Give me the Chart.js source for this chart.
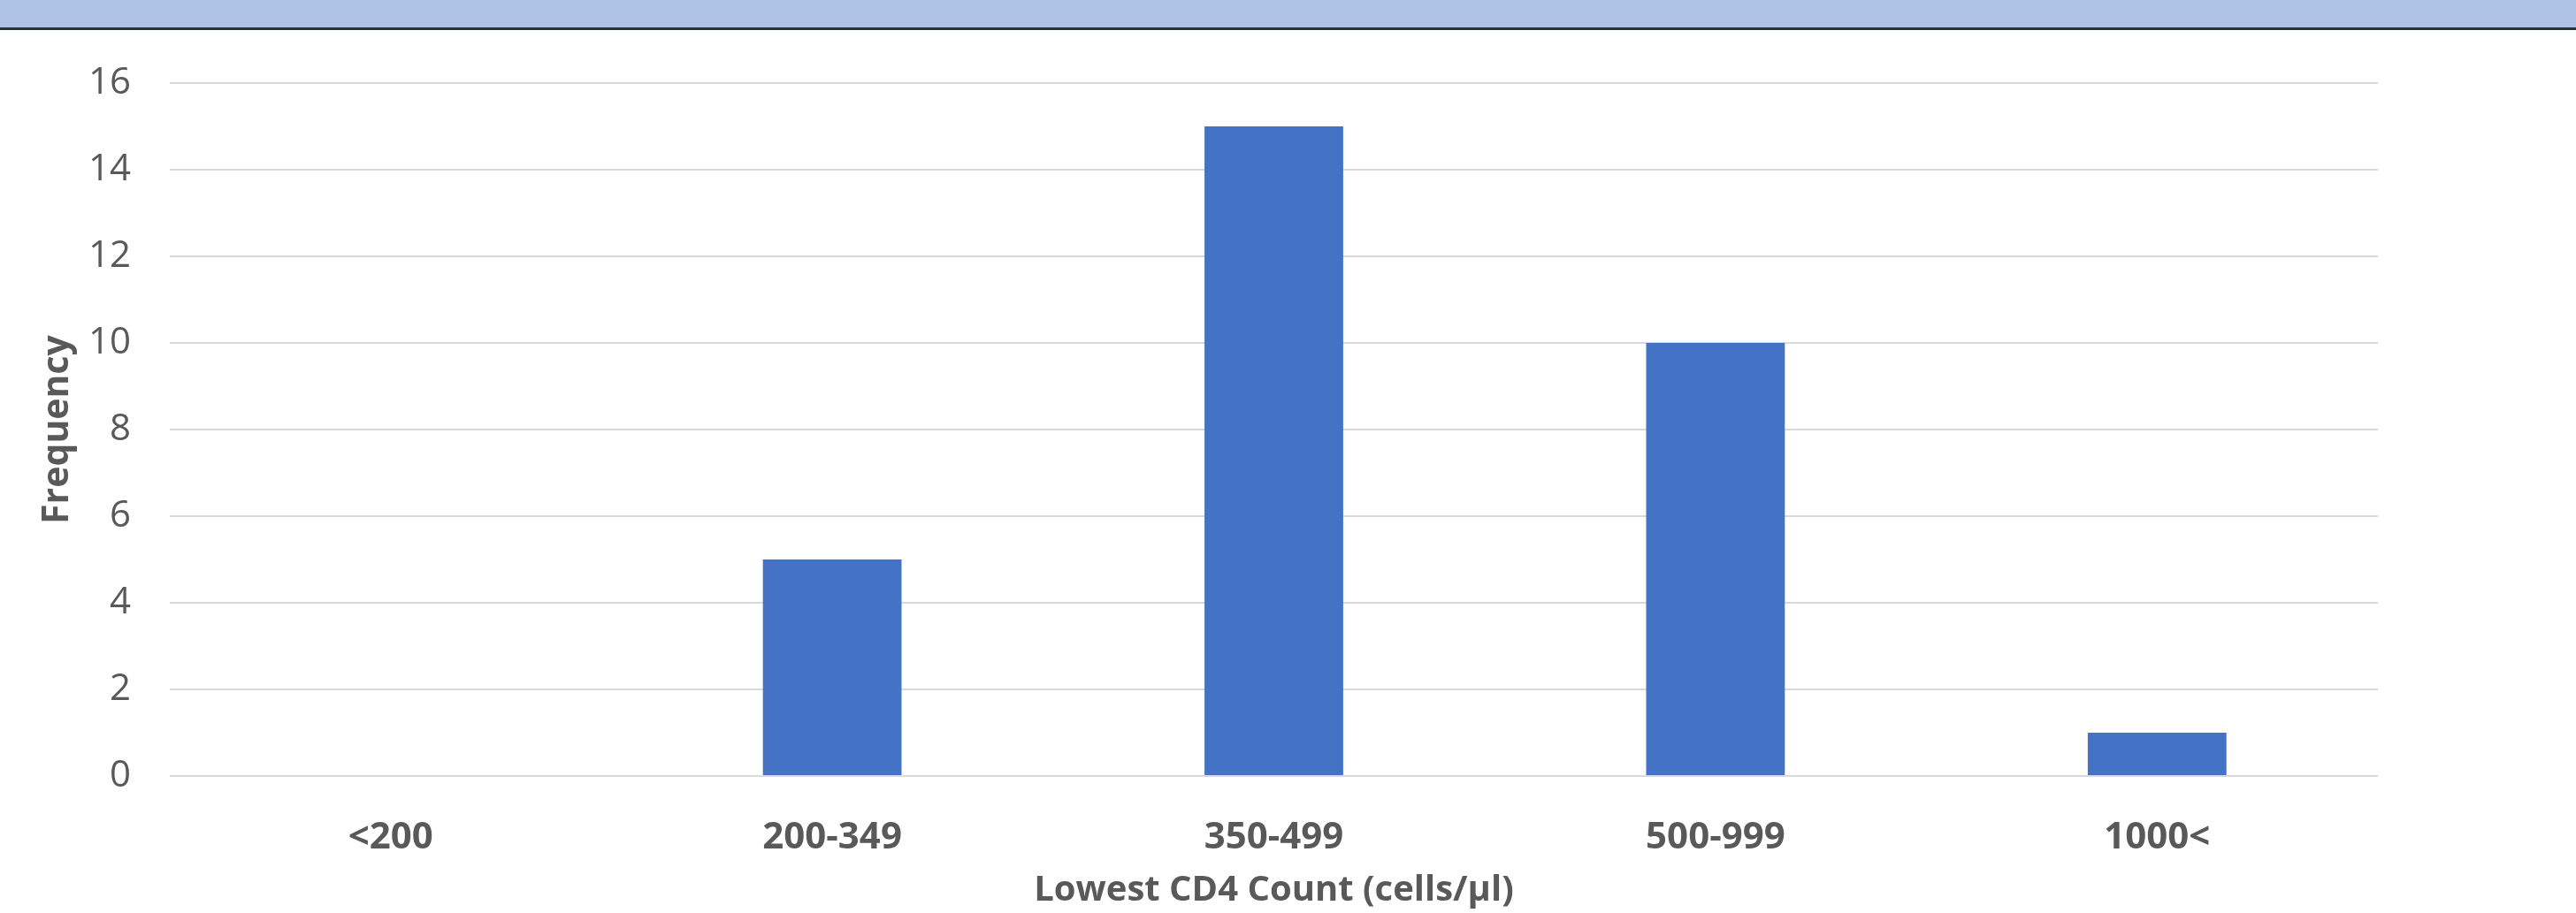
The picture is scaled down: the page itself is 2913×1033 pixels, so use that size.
<!DOCTYPE html>
<html>
<head>
<meta charset="utf-8">
<script src="https://cdn.jsdelivr.net/npm/chart.js@4/dist/chart.umd.min.js"></script>
<style>
  html, body { margin: 0; padding: 0; background: #fff; }
  #wrap { position: relative; width: 2913px; height: 1033px; }
  #band { position: absolute; left: 0; top: 0; width: 2913px; height: 31px;
          background: #aec2e6; border-bottom: 3px solid #2a2f38; z-index: 2; }
  canvas { position: absolute; left: 0; top: 0; }
</style>
</head>
<body>
<div id="wrap">
  <div id="band"></div>
  <canvas id="myChart" width="2913" height="1033"></canvas>
</div>
<script>
// bins of lowest CD4 count and how many patients fell in each
var categories = ['<200', '200-349', '350-499', '500-999', '1000<'];
var frequency = [0, 5, 15, 10, 1];
var yTicks = [0, 2, 4, 6, 8, 10, 12, 14, 16];

var textColor = '#595959';
var fontName = "'Open Sans', 'Noto Sans', sans-serif";

var ctx = document.getElementById('myChart');
var config = {
    type: 'bar',
    data: {
        labels: categories,
        datasets: [{
            label: 'Frequency',
            data: frequency,
            backgroundColor: '#4472c4',
            borderWidth: 0,
            categoryPercentage: 1,
            barPercentage: 0.314
        }]
    },
    options: {
        responsive: false,
        animation: false,
        layout: {
            padding: { top: 94, right: 224, left: 0, bottom: 0 }
        },
        plugins: {
            legend: { display: false },
            tooltip: { enabled: false }
        },
        scales: {
            x: {
                grid: { display: false },
                border: { display: false },
                ticks: {
                    color: textColor,
                    padding: 37,
                    font: { family: fontName, size: 42, weight: 'bold' }
                },
                title: {
                    display: true,
                    text: 'Lowest CD4 Count (cells/µl)',
                    color: textColor,
                    padding: { top: 0, bottom: 1 },
                    font: { family: fontName, size: 40, weight: 'bold' }
                },
                afterFit: function(scale) { scale.height = 155; }
            },
            y: {
                min: yTicks[0],
                max: yTicks[yTicks.length - 1],
                afterBuildTicks: function(scale) {
                    scale.ticks = yTicks.map(function(v) { return { value: v }; });
                },
                grid: { color: '#d9d9d9', lineWidth: 2, drawTicks: false },
                border: { display: false },
                ticks: {
                    color: textColor,
                    padding: 44,
                    font: { family: fontName, size: 42 }
                },
                title: {
                    display: true,
                    text: 'Frequency',
                    color: textColor,
                    padding: { top: 41, bottom: 0 },
                    font: { family: fontName, size: 41, weight: 'bold' }
                },
                afterFit: function(scale) { scale.width = 192; }
            }
        }
    }
};
var myChart = new Chart(ctx, config);
</script>
</body>
</html>
